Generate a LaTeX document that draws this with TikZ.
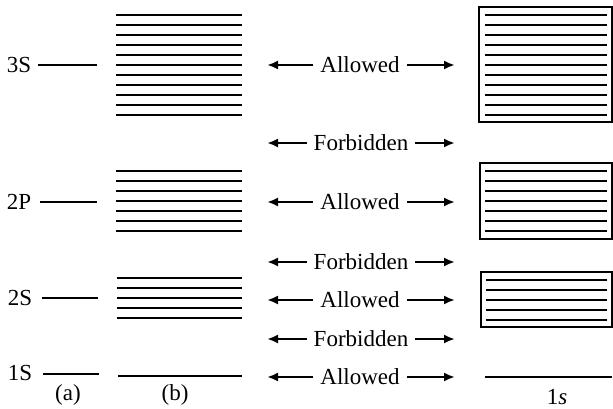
\documentclass[tikz,border=0pt]{standalone}
\usepackage{fontspec}
\setmainfont{Liberation Serif}
\usetikzlibrary{
  arrows.meta,
  positioning
}

\begin{document}
\begin{tikzpicture}[
  x=1pt, y=-1pt,
  lvl/.style={
    font=\fontsize{23}{26}\selectfont,
    inner sep=0pt,
  },
  zone/.style={
    font=\fontsize{23}{26}\selectfont,
    inner sep=7pt,
  },
  level/.style={line width=2.4pt},
  band/.style={line width=2.8pt},
  frame/.style={line width=2.4pt},
  arrow/.style={-{Latex[length=11pt,width=9pt]}, line width=2.4pt},
]
\useasboundingbox (0,0) rectangle (613,408);

% ── Column (a): atomic levels ──
\node[lvl] (s3) at (19,65) {3S};
\node[lvl] (p2) at (19,202) {2P};
\node[lvl] (s2) at (20,298) {2S};
\node[lvl] (s1) at (20,373) {1S};
\draw[level] (38,65) -- (97,65);
\draw[level] (40,202) -- (97,202);
\draw[level] (42,298) -- (98,298);
\draw[level] (43,374) -- (99,374);
\node[lvl] (capa) at (68,395) {(a)};

% ── Column (b): split levels ──
\foreach \y in {15,25,...,115}
  \draw[band] (116,\y) -- (242,\y);
\foreach \y in {171,181,...,231}
  \draw[band] (116,\y) -- (242,\y);
\foreach \y in {278,288,...,318}
  \draw[band] (117,\y) -- (242,\y);
\draw[band] (118,376) -- (242,376);
\node[lvl] (capb) at (175,395) {(b)};

% ── Middle: allowed / forbidden ──
\node[zone] (al1) at (360,65) {Allowed};
\node[zone] (fb1) at (361,143) {Forbidden};
\node[zone] (al2) at (360,202) {Allowed};
\node[zone] (fb2) at (361,262) {Forbidden};
\node[zone] (al3) at (360,300) {Allowed};
\node[zone] (fb3) at (361,339) {Forbidden};
\node[zone] (al4) at (360,377) {Allowed};

\foreach \n in {al1,fb1,al2,fb2,al3,fb3,al4} {
  \coordinate (\n-l) at (267,0 |- \n);
  \coordinate (\n-r) at (455,0 |- \n);
  \draw[arrow] (\n) -- (\n-l);
  \draw[arrow] (\n) -- (\n-r);
}

% ── Right: bands ──
\draw[frame] (479,7) rectangle (612,122);
\foreach \y in {15,25,...,115}
  \draw[band] (485,\y) -- (607,\y);
\draw[frame] (480,163) rectangle (612,239);
\foreach \y in {171,181,...,231}
  \draw[band] (485,\y) -- (607,\y);
\draw[frame] (481,272) rectangle (612,327);
\foreach \y in {280,290,...,320}
  \draw[band] (486,\y) -- (607,\y);
\draw[band] (485,377) -- (612,377);
\node[lvl] (cap1s) at (557,397) {1\textit{s}};

\end{tikzpicture}
\end{document}
